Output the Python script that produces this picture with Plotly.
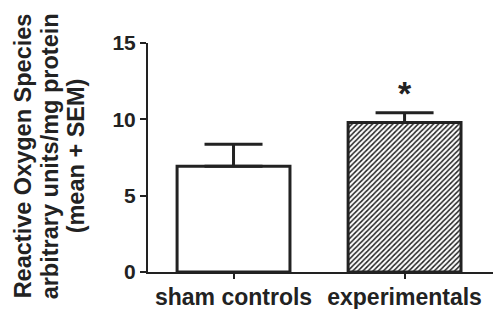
import plotly.graph_objects as go

categories = ["sham controls", "experimentals"]
means = [6.93, 9.8]
sems = [1.44, 0.63]
y_ticks = [0, 5, 10, 15]
title_lines = ["Reactive Oxygen Species", "arbitrary units/mg protein", "(mean + SEM)"]
sig_marker = ["", "*"]

FONT = "Liberation Sans, Arial, sans-serif"
INK = "#222222"

fig = go.Figure()
fig.add_trace(go.Bar(
    x=categories,
    y=means,
    width=0.66,
    marker=dict(
        color="white",
        line=dict(color=INK, width=3),
        pattern=dict(shape=["", "/"], fgcolor="#222222", bgcolor="white", size=3.6, solidity=0.42),
    ),
    error_y=dict(type="data", symmetric=False, array=sems, arrayminus=[0, 0],
                 color=INK, thickness=3, width=29),
    showlegend=False,
))

for i, (cat, s) in enumerate(zip(categories, sig_marker)):
    if s:
        fig.add_annotation(x=cat, y=means[i] + sems[i], text="<b>" + s + "</b>",
                           showarrow=False, yanchor="bottom", yshift=-1,
                           font=dict(family=FONT, size=34, color=INK))

L, R, T, B = 148, 0, 43, 37
W, H = 493, 309
pw = W - L - R
line_px = [23, 50, 76]
for txt, px in zip(title_lines, line_px):
    fig.add_annotation(xref="paper", yref="paper", x=(px - L) / pw, y=0.505,
                       text="<b>" + txt + "</b>", textangle=-90, showarrow=False,
                       xanchor="center", yanchor="middle",
                       font=dict(family=FONT, size=23.5, color=INK))

fig.update_layout(
    template="none",
    width=W, height=H,
    margin=dict(l=L, r=R, t=T, b=B, pad=0, autoexpand=False),
    paper_bgcolor="white", plot_bgcolor="white",
    font=dict(family=FONT, color=INK),
    bargap=0.3,
)
fig.update_xaxes(
    automargin=False,
    range=[-0.5, 1.517], showline=True, linecolor=INK, linewidth=2,
    ticks="outside", ticklen=5, tickwidth=1.5, tickcolor=INK,
    showgrid=False, zeroline=False,
    tickfont=dict(family=FONT, size=23, color=INK),
    tickprefix="<b>", ticksuffix="</b>",
    ticklabelstandoff=-2,
)
fig.update_yaxes(
    automargin=False,
    range=[0, 15], tickvals=y_ticks, ticktext=["<b>%d</b>" % v for v in y_ticks],
    showline=True, linecolor=INK, linewidth=2,
    ticks="outside", ticklen=6, tickwidth=2, tickcolor=INK,
    showgrid=False, zeroline=False,
    tickfont=dict(family=FONT, size=21, color=INK),
)

fig.write_html("out.html", config={"displayModeBar": False},
               post_script="document.body.style.margin='0';document.body.style.padding='0';")
